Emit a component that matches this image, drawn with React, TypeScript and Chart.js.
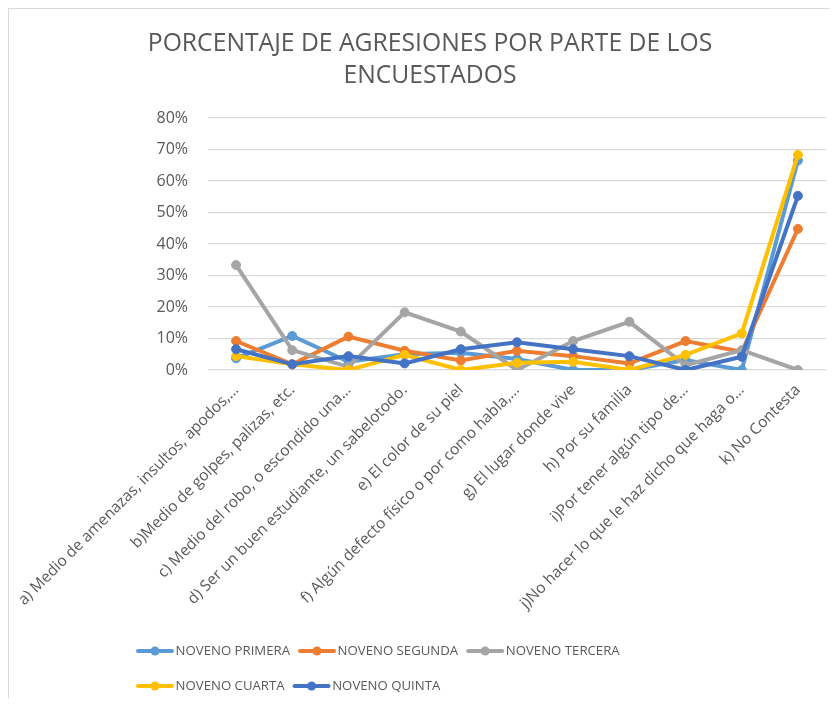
import React, { useEffect, useRef } from "react";
import { Chart, registerables } from "chart.js";

Chart.register(...registerables);

const TITLE = ["PORCENTAJE DE AGRESIONES POR PARTE DE LOS", "ENCUESTADOS"];

const CATEGORIES = [
  "a) Medio de amenazas, insultos, apodos,…",
  "b)Medio de golpes, palizas, etc.",
  "c) Medio del robo, o escondido una…",
  "d) Ser un buen estudiante, un sabelotodo.",
  "e) El color de su piel",
  "f) Algún defecto físico o por como habla,…",
  "g) El lugar donde vive",
  "h) Por su familia",
  "i)Por tener algún tipo de…",
  "j)No hacer lo que le haz dicho que haga o…",
  "k) No Contesta",
];

const SERIES_NAMES = [
  "NOVENO PRIMERA",
  "NOVENO SEGUNDA",
  "NOVENO TERCERA",
  "NOVENO CUARTA",
  "NOVENO QUINTA",
];

const PRIMERA = [3.7, 10.8, 2.6, 5.0, 5.5, 3.5, 0, 0, 3.2, 0, 66.5];
const SEGUNDA = [9.2, 1.8, 10.6, 6.1, 3.0, 6.1, 4.4, 2.1, 9.2, 5.8, 44.8];
const TERCERA = [33.3, 6.3, 1.0, 18.3, 12.2, 0, 9.2, 15.3, 1.5, 6.3, 0];
const CUARTA = [4.4, 1.8, 0, 4.8, 0, 2.3, 2.6, 0, 4.8, 11.6, 68.3];
const QUINTA = [6.6, 1.8, 4.4, 2.1, 6.6, 8.8, 6.6, 4.4, 0, 4.2, 55.3];

const SERIES = [PRIMERA, SEGUNDA, TERCERA, CUARTA, QUINTA];
const COLORS = ["#5B9BD5", "#ED7D31", "#A5A5A5", "#FFC000", "#4472C4"];

const Y_TICKS_MIN = 0;
const Y_TICKS_MAX = 80;
const Y_TICKS_STEP = 10;

const FONT = '"Open Sans", sans-serif';
const TEXT_COLOR = "#595959";
const GRID_COLOR = "#d9d9d9";

const CANVAS_W = 842;
const CANVAS_H = 689;

const LEGEND_FONT = 13.2;
const LEGEND_BOXW = 32;
const LEGEND_ITEM_H = 26;
const LEGEND_PAD = 9;
const LEGEND_LEFT = 119;
const LEGEND_WIDTH = 560;
const LEGEND_TOP = 620;

const layoutAdjust = {
  id: "layoutAdjust",
  afterLayout(chart: any) {
    const tb = chart.titleBlock;
    if (tb) {
      tb.left = 0;
      tb.right = CANVAS_W;
      tb.width = CANVAS_W;
    }
    const lg = chart.legend;
    if (!lg) return;
    const h = lg.height;
    lg.left = LEGEND_LEFT;
    lg.right = LEGEND_LEFT + LEGEND_WIDTH;
    lg.width = LEGEND_WIDTH;
    lg.top = LEGEND_TOP;
    lg.bottom = LEGEND_TOP + h;
  },
  afterDraw(chart: any) {
    const lg = chart.legend;
    if (!lg || !lg.legendItems) return;
    const ctx = chart.ctx;
    ctx.save();
    ctx.font = `${LEGEND_FONT}px ${FONT}`;
    let x = lg.left + LEGEND_PAD;
    let y = lg.top + LEGEND_PAD;
    lg.legendItems.forEach((item: any, i: number) => {
      const w = LEGEND_BOXW + LEGEND_FONT / 2 + ctx.measureText(item.text).width;
      if (i > 0 && x + w + LEGEND_PAD > lg.right) {
        y += LEGEND_ITEM_H + LEGEND_PAD;
        x = lg.left + LEGEND_PAD;
      }
      const cy = y + LEGEND_ITEM_H / 2;
      const color = chart.data.datasets[item.datasetIndex].borderColor;
      ctx.strokeStyle = color;
      ctx.lineWidth = 4;
      ctx.lineCap = "round";
      ctx.beginPath();
      ctx.moveTo(x + 1, cy);
      ctx.lineTo(x + 35, cy);
      ctx.stroke();
      ctx.fillStyle = color;
      ctx.beginPath();
      ctx.arc(x + 18, cy, 4.5, 0, Math.PI * 2);
      ctx.fill();
      x += w + LEGEND_PAD;
    });
    ctx.restore();
  },
};

export default function App() {
  const ref = useRef<HTMLCanvasElement | null>(null);

  useEffect(() => {
    if (!ref.current) return;
    const chart = new Chart(ref.current, {
      type: "line",
      data: {
        labels: CATEGORIES,
        datasets: SERIES.map((data, i) => ({
          label: SERIES_NAMES[i],
          data,
          borderColor: COLORS[i],
          backgroundColor: COLORS[i],
          pointBackgroundColor: COLORS[i],
          pointBorderColor: COLORS[i],
          borderWidth: 4,
          pointRadius: 4.5,
          pointBorderWidth: 1,
          tension: 0,
          fill: false,
          order: SERIES.length - 1 - i,
        })),
      },
      options: {
        responsive: false,
        animation: false,
        layout: { padding: { left: 0, right: 25, top: 0, bottom: 0 } },
        plugins: {
          title: {
            display: true,
            text: TITLE,
            color: TEXT_COLOR,
            font: { family: FONT, size: 24.7, weight: "normal", lineHeight: 1.2955 },
            padding: { top: 19, bottom: 26 },
          },
          legend: {
            display: true,
            position: "bottom",
            fullSize: false,
            align: "start",
            labels: {
              color: TEXT_COLOR,
              font: { family: FONT, size: LEGEND_FONT },
              boxWidth: LEGEND_BOXW,
              boxHeight: LEGEND_ITEM_H,
              padding: LEGEND_PAD,
              usePointStyle: false,
              sort: (a: any, b: any) => a.datasetIndex - b.datasetIndex,
              generateLabels: (chart: any) =>
                Chart.defaults.plugins.legend.labels
                  .generateLabels(chart)
                  .map((l: any) => ({
                    ...l,
                    fillStyle: "rgba(0,0,0,0)",
                    strokeStyle: "rgba(0,0,0,0)",
                    lineWidth: 0,
                  })),
            },
          },
          tooltip: { enabled: false },
        },
        scales: {
          x: {
            offset: true,
            grid: { display: false, drawTicks: false },
            border: { display: false },
            ticks: {
              autoSkip: false,
              minRotation: 45,
              maxRotation: 45,
              padding: 11,
              color: TEXT_COLOR,
              font: { family: FONT, size: 15.5 },
            },
            afterFit: (scale: any) => {
              scale.height = 248;
              scale.paddingLeft = 0;
              scale.paddingRight = 0;
            },
          },
          y: {
            min: Y_TICKS_MIN,
            max: Y_TICKS_MAX,
            grid: { color: GRID_COLOR, lineWidth: 1.3, drawTicks: false },
            border: { display: false },
            ticks: {
              stepSize: Y_TICKS_STEP,
              padding: 20,
              color: TEXT_COLOR,
              font: { family: FONT, size: 16 },
              callback: (v: any) => `${v}%`,
            },
            afterFit: (scale: any) => {
              scale.width = 199;
            },
          },
        },
      },
      plugins: [layoutAdjust],
    });
    return () => chart.destroy();
  }, []);

  return (
    <div
      style={{
        width: 821,
        height: 690,
        boxSizing: "border-box",
        borderLeft: "1px solid #d9d9d9",
        borderTop: "1px solid #d9d9d9",
        overflow: "hidden",
        background: "#fff",
      }}
    >
      <canvas
        ref={ref}
        width={CANVAS_W}
        height={CANVAS_H}
        style={{ display: "block", width: CANVAS_W, height: CANVAS_H }}
      />
    </div>
  );
}
